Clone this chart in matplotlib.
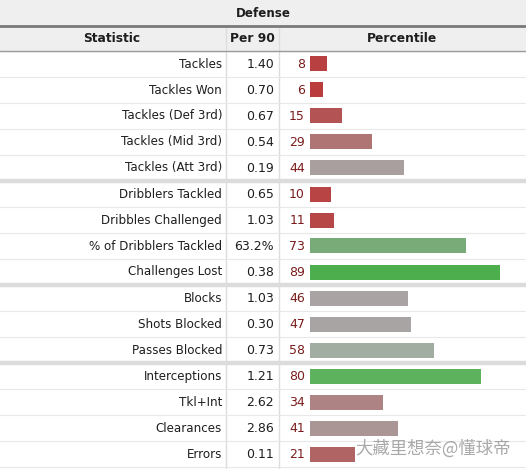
import numpy as np
import matplotlib
matplotlib.use('Agg')
import matplotlib.pyplot as plt
from matplotlib.colors import LinearSegmentedColormap

# Defense table (per 90 + percentile)
stats = ['Tackles', 'Tackles Won', 'Tackles (Def 3rd)', 'Tackles (Mid 3rd)',
         'Tackles (Att 3rd)', 'Dribblers Tackled', 'Dribbles Challenged',
         '% of Dribblers Tackled', 'Challenges Lost', 'Blocks', 'Shots Blocked',
         'Passes Blocked', 'Interceptions', 'Tkl+Int', 'Clearances', 'Errors']
per90 = ['1.40', '0.70', '0.67', '0.54', '0.19', '0.65', '1.03', '63.2%',
         '0.38', '1.03', '0.30', '0.73', '1.21', '2.62', '2.86', '0.11']
percentile = [8, 6, 15, 29, 44, 10, 11, 73, 89, 46, 47, 58, 80, 34, 41, 21]
group_ends = [5, 9, 12]  # thick separators after these rows

W, H = 526, 469
row_h = 26
top = 51

# red -> grey -> green like the original site
cmap = LinearSegmentedColormap.from_list('pct', [
    (0.00, '#bc3030'), (0.10, '#b84444'), (0.20, '#b06262'),
    (0.30, '#af7777'), (0.45, '#aaa2a2'), (0.50, '#a8a8a8'),
    (0.60, '#9fae9f'), (0.73, '#78ab78'), (0.80, '#5db35d'),
    (0.90, '#4aae4a'), (1.00, '#3ea83e')])

fig = plt.figure(figsize=(W / 100, H / 100), dpi=100)
ax = fig.add_axes([0, 0, 1, 1])
ax.set_xlim(0, W)
ax.set_ylim((H - top) / row_h, -top / row_h)
ax.axis('off')

n = len(stats)
y0 = -top / row_h  # top of figure in row units

# title + header backgrounds
ax.axhspan(y0, 0, color='#efefef', zorder=0)
ax.axhline(-1 + 1 / row_h, color='#7a7a7a', lw=2, zorder=2)
ax.axhline(0, color='#9a9a9a', lw=1, zorder=2)

txt = '#1e1e1e'
ax.text(W / 2, (y0 - 1) / 2 + 0.02, 'Defense', ha='center', va='center',
        fontsize=8.6, fontweight='bold', color=txt)
ax.text(112, -0.47, 'Statistic', ha='center', va='center', fontsize=8.8,
        fontweight='bold', color=txt)
ax.text(252, -0.47, 'Per 90', ha='center', va='center', fontsize=8.8,
        fontweight='bold', color=txt)
ax.text(402, -0.47, 'Percentile', ha='center', va='center', fontsize=8.8,
        fontweight='bold', color=txt)

# column lines
for x in (226, 279):
    ax.plot([x, x], [-0.96, n + 1], color='#dddddd', lw=1, zorder=1)

# row lines
for i in range(1, n + 1):
    if i in group_ends:
        ax.axhline(i, color='#dcdcdc', lw=3.2, zorder=2)
    else:
        ax.axhline(i, color='#e8e8e8', lw=0.8, zorder=1)

ys = np.arange(n) + 0.5
for y, s, v, p in zip(ys, stats, per90, percentile):
    ax.text(222, y, s, ha='right', va='center', fontsize=8.6, color=txt)
    ax.text(274, y, v, ha='right', va='center', fontsize=9, color=txt)
    ax.text(305, y, str(p), ha='right', va='center', fontsize=9,
            color='#7a1c1c')

# bars
bax = fig.add_axes([310 / W, 0, 214 / W, 1], sharey=ax)
bax.set_xlim(0, 100)
bax.axis('off')
bax.patch.set_alpha(0)
bax.barh(ys, percentile, height=15 / row_h,
         color=[cmap(p / 100) for p in percentile])

fig.text(355 / W, 1 - 449 / H, '大藏里想奈@懂球帝', ha='left', va='center',
         fontsize=12.5, color='#9a9a9a', alpha=0.85,
         family=['Noto Sans CJK SC', 'DejaVu Sans'])

fig.savefig('out.png', dpi=100)
